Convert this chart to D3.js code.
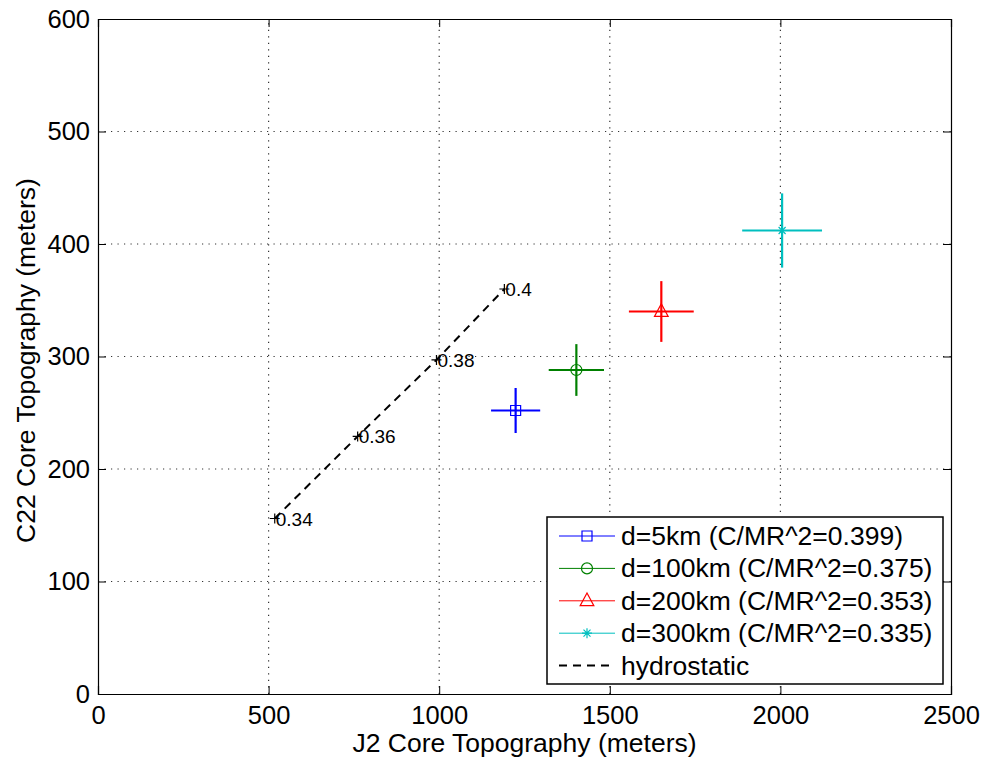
<!DOCTYPE html>
<html>
<head>
<meta charset="utf-8">
<script src="https://cdn.jsdelivr.net/npm/d3@7"></script>
<style>
  body { margin: 0; background: #fff; }
  text { font-family: "Liberation Sans", Arial, sans-serif; }
</style>
</head>
<body>
<div id="chart"></div>
<script>
// series: core topography estimates with error bars
var seriesNames = ["d=5km (C/MR^2=0.399)", "d=100km (C/MR^2=0.375)", "d=200km (C/MR^2=0.353)", "d=300km (C/MR^2=0.335)"];
var seriesColors = ["#0000ff", "#008000", "#ff0000", "#00bfbf"];
var seriesMarkers = ["square", "circle", "triangle", "star"];
var j2Values = [1224, 1402, 1651, 2005];
var c22Values = [252, 288, 340, 412];
var j2Errors = [72, 81, 95, 117];
var c22Errors = [20, 23, 27, 33];

// hydrostatic curve
var hydroJ2 = [518, 761, 992, 1191];
var hydroC22 = [156, 229, 297, 360];
var hydroLabels = ["0.34", "0.36", "0.38", "0.4"];

var xTicks = [0, 500, 1000, 1500, 2000, 2500];
var yTicks = [0, 100, 200, 300, 400, 500, 600];

var width = 987,
    height = 760;
var margin = {left: 98, right: 36, top: 19, bottom: 66};

var x = d3.scaleLinear().domain([0, 2500]).range([margin.left, width - margin.right]);
var y = d3.scaleLinear().domain([0, 600]).range([height - margin.bottom, margin.top]);

var svg = d3.select("#chart")
    .append("svg")
    .attr("width", width)
    .attr("height", height);

// dotted grid
svg.append("g")
    .selectAll("line")
    .data(xTicks.slice(1, -1))
    .enter()
    .append("line")
    .attr("x1", d => x(d)).attr("x2", d => x(d))
    .attr("y1", y(0)).attr("y2", y(600))
    .attr("stroke", "#333").attr("stroke-width", 1.2)
    .attr("stroke-dasharray", "1.2,5.3");
svg.append("g")
    .selectAll("line")
    .data(yTicks.slice(1, -1))
    .enter()
    .append("line")
    .attr("x1", x(0)).attr("x2", x(2500))
    .attr("y1", d => y(d)).attr("y2", d => y(d))
    .attr("stroke", "#333").attr("stroke-width", 1.2)
    .attr("stroke-dasharray", "1.2,5.3");

// axes (ticks inward, matlab style box)
var fontSize = "26.5px";
var tickFont = "25.5px";
var xAxis = svg.append("g")
    .attr("transform", "translate(0," + y(0) + ")")
    .call(d3.axisBottom(x).tickValues(xTicks).tickFormat(d3.format("d")).tickSize(-8).tickPadding(12));
var yAxis = svg.append("g")
    .attr("transform", "translate(" + x(0) + ",0)")
    .call(d3.axisLeft(y).tickValues(yTicks).tickFormat(d3.format("d")).tickSize(-8).tickPadding(8));
svg.append("g")
    .attr("transform", "translate(0," + y(600) + ")")
    .call(d3.axisTop(x).tickValues(xTicks).tickSize(-8).tickFormat(""));
svg.append("g")
    .attr("transform", "translate(" + x(2500) + ",0)")
    .call(d3.axisRight(y).tickValues(yTicks).tickSize(-8).tickFormat(""));
svg.selectAll(".domain").attr("stroke", "#000").attr("stroke-width", 1.2);
svg.selectAll(".tick line").attr("stroke", "#000");
svg.selectAll(".tick text")
    .style("font-size", tickFont)
    .style("font-family", "'Liberation Sans', Arial, sans-serif")
    .attr("fill", "#000");
xAxis.selectAll(".tick text").attr("dy", "0.71em");

// axis titles
svg.append("text")
    .attr("x", (x(0) + x(2500)) / 2)
    .attr("y", 752)
    .attr("text-anchor", "middle")
    .style("font-size", fontSize)
    .text("J2 Core Topography (meters)");
svg.append("text")
    .attr("transform", "translate(35," + ((y(0) + y(600)) / 2 + 4) + ") rotate(-90)")
    .attr("text-anchor", "middle")
    .style("font-size", fontSize)
    .text("C22 Core Topography (meters)");

// hydrostatic dashed line
var hydro = hydroJ2.map((d, i) => ({x: d, y: hydroC22[i], label: hydroLabels[i]}));
svg.append("path")
    .datum(hydro)
    .attr("d", d3.line().x(d => x(d.x)).y(d => y(d.y)))
    .attr("fill", "none")
    .attr("stroke", "#000")
    .attr("stroke-width", 2)
    .attr("stroke-dasharray", "8,6");
var hp = svg.append("g")
    .selectAll("g")
    .data(hydro)
    .enter()
    .append("g")
    .attr("transform", d => "translate(" + x(d.x) + "," + y(d.y) + ")");
hp.append("path")
    .attr("d", "M-5,0H5M0,-5V5")
    .attr("stroke", "#000")
    .attr("stroke-width", 1.2);
hp.append("text")
    .attr("x", 1)
    .attr("y", 7)
    .style("font-size", "19px")
    .text(d => d.label);

// marker shapes
function markerPath(type, s) {
    if (type == "square") return "M" + (-s) + "," + (-s) + "H" + s + "V" + s + "H" + (-s) + "Z";
    if (type == "circle") return d3.symbol().type(d3.symbolCircle).size(Math.PI * s * s)();
    if (type == "triangle") return "M0," + (-s * 1.2) + "L" + (s * 1.05) + "," + (s * 0.75) + "L" + (-s * 1.05) + "," + (s * 0.75) + "Z";
    // star: + and x
    var d = s * 0.7;
    return "M" + (-s) + ",0H" + s + "M0," + (-s) + "V" + s +
        "M" + (-d) + "," + (-d) + "L" + d + "," + d + "M" + (-d) + "," + d + "L" + d + "," + (-d);
}
var markerSize = {square: 5, circle: 5.5, triangle: 6.5, star: 5};

// error bar crosses
var pts = svg.append("g")
    .selectAll("g")
    .data(seriesNames)
    .enter()
    .append("g");
pts.append("line")
    .attr("x1", (d, i) => x(j2Values[i] - j2Errors[i]))
    .attr("x2", (d, i) => x(j2Values[i] + j2Errors[i]))
    .attr("y1", (d, i) => y(c22Values[i]))
    .attr("y2", (d, i) => y(c22Values[i]))
    .attr("stroke", (d, i) => seriesColors[i])
    .attr("stroke-width", 2.2);
pts.append("line")
    .attr("x1", (d, i) => x(j2Values[i]))
    .attr("x2", (d, i) => x(j2Values[i]))
    .attr("y1", (d, i) => y(c22Values[i] - c22Errors[i]))
    .attr("y2", (d, i) => y(c22Values[i] + c22Errors[i]))
    .attr("stroke", (d, i) => seriesColors[i])
    .attr("stroke-width", 2.2);
pts.append("path")
    .attr("transform", (d, i) => "translate(" + x(j2Values[i]) + "," + y(c22Values[i]) + ")")
    .attr("d", (d, i) => markerPath(seriesMarkers[i], markerSize[seriesMarkers[i]]))
    .attr("fill", "none")
    .attr("stroke", (d, i) => seriesColors[i])
    .attr("stroke-width", 1.2);

// legend
var lg = svg.append("g");
lg.append("rect")
    .attr("x", 547).attr("y", 517)
    .attr("width", 396).attr("height", 167)
    .attr("fill", "#fff")
    .attr("stroke", "#000")
    .attr("stroke-width", 1.5);
var legendNames = seriesNames.concat(["hydrostatic"]);
var rows = lg.selectAll("g")
    .data(legendNames)
    .enter()
    .append("g")
    .attr("transform", (d, i) => "translate(0," + (536 + i * 32.4) + ")");
rows.append("line")
    .attr("x1", 559).attr("x2", 615)
    .attr("y1", 0).attr("y2", 0)
    .attr("stroke", (d, i) => i < 4 ? seriesColors[i] : "#000")
    .attr("stroke-width", (d, i) => i < 4 ? 1 : 2)
    .attr("stroke-dasharray", (d, i) => i < 4 ? null : "8,6");
rows.filter((d, i) => i < 4)
    .append("path")
    .attr("transform", "translate(587,0)")
    .attr("d", (d, i) => markerPath(seriesMarkers[i], markerSize[seriesMarkers[i]]))
    .attr("fill", "none")
    .attr("stroke", (d, i) => seriesColors[i])
    .attr("stroke-width", 1.2);
rows.append("text")
    .attr("x", 621)
    .attr("y", 9)
    .style("font-size", fontSize)
    .text(d => d);
</script>
</body>
</html>
